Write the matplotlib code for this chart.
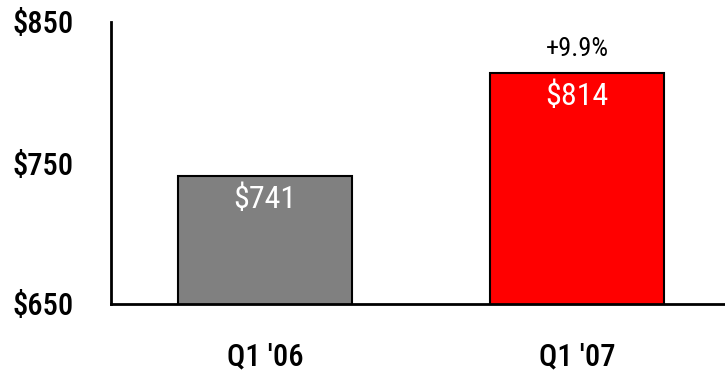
import matplotlib.pyplot as plt
from matplotlib import font_manager

categories = ["Q1 '06", "Q1 '07"]
revenue = [741, 814]
bar_colors = ["#808080", "#ff0000"]
growth_label = "+9.9%"
y_ticks = [650, 750, 850]

# condensed sans face for all chart text
installed = {f.name for f in font_manager.fontManager.ttflist}
narrow = [n for n in ["Roboto Condensed", "Archivo Narrow", "Liberation Sans Narrow", "Asap Condensed"] if n in installed]
plt.rcParams['font.family'] = narrow[:1] + ['DejaVu Sans']

fig = plt.figure(figsize=(7.25, 3.71), dpi=100)
ax = fig.add_axes([111 / 725, 1 - 304 / 371, 614 / 725, 282 / 371])

x = range(len(categories))
ax.bar(x, revenue, width=0.56, color=bar_colors, edgecolor="black", linewidth=1.5, zorder=2)

for xi, v in zip(x, revenue):
    ax.text(xi, v - 6, f"${v}", ha="center", va="top", color="white", fontsize=23)
ax.text(1, revenue[1] + 8, growth_label, ha="center", va="bottom", color="black", fontsize=19)

ax.set_ylim(650, 850)
ax.set_xlim(-0.494, 1.474)
ax.set_yticks(y_ticks)
ax.set_yticklabels([f"${t}" for t in y_ticks], fontsize=22, fontweight="medium")
ax.set_xticks(list(x))
ax.set_xticklabels(categories, fontsize=22, fontweight="medium")
ax.tick_params(length=0)
ax.tick_params(axis="y", pad=27)
ax.tick_params(axis="x", pad=28)
for side in ["top", "right"]:
    ax.spines[side].set_visible(False)
for side in ["left", "bottom"]:
    ax.spines[side].set_linewidth(2)

fig.savefig("out.png", dpi=100)
